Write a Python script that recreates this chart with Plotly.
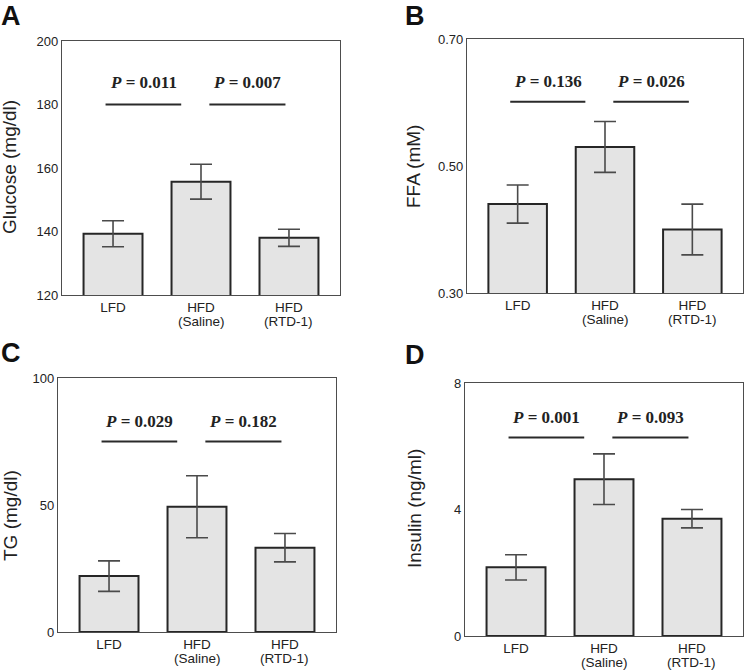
import plotly.graph_objects as go

W, H = 745, 670

categories = ["LFD", "HFD", "HFD"]
subcategories = ["", "(Saline)", "(RTD-1)"]

glucose_mean = [139.3, 155.7, 138.0]
glucose_sem = [4.1, 5.5, 2.7]
ffa_mean = [0.440, 0.530, 0.400]
ffa_sem = [0.030, 0.040, 0.040]
tg_mean = [22.0, 49.3, 33.2]
tg_sem = [6.0, 12.2, 5.6]
insulin_mean = [2.17, 4.96, 3.71]
insulin_sem = [0.40, 0.80, 0.29]

glucose_p = ["0.011", "0.007"]
ffa_p = ["0.136", "0.026"]
tg_p = ["0.029", "0.182"]
insulin_p = ["0.001", "0.093"]

glucose_ticks = [120, 140, 160, 180, 200]
ffa_ticks = [0.30, 0.50, 0.70]
tg_ticks = [0, 50, 100]
insulin_ticks = [0, 4, 8]

def px(x):
    return x / W

def py(y):
    return 1 - y / H

panels = [
    ("A", "Glucose (mg/dl)", glucose_mean, glucose_sem, glucose_p, glucose_ticks, "d", [120, 200], 180, 187,
     (62, 340), (41, 295), (11, 16), (10, 167)),
    ("B", "FFA (mM)", ffa_mean, ffa_sem, ffa_p, ffa_ticks, ".2f", [0.30, 0.70], 0.601, 0.633,
     (467, 743), (39, 293), (415, 16), (414, 167)),
    ("C", "TG (mg/dl)", tg_mean, tg_sem, tg_p, tg_ticks, "d", [0, 100], 75, 83,
     (58, 336), (378, 632), (11, 353), (10, 516)),
    ("D", "Insulin (ng/ml)", insulin_mean, insulin_sem, insulin_p, insulin_ticks, "d", [0, 8], 6.28, 6.9,
     (465, 743), (383, 636), (415, 355), (414, 509)),
]

fig = go.Figure()
annotations = []
shapes = []
layout_axes = {}
label_font = dict(family="Liberation Sans, Arial", size=13.5, color="#222")

for i, (letter, ytitle, means, sems, pvals, ticks, fmt, yr, line_y, text_y,
        xd, yd, lpos, tpos) in enumerate(panels):
    n = "" if i == 0 else str(i + 1)
    xa, ya = "x" + n, "y" + n
    fig.add_trace(go.Bar(
        x=[0, 1, 2], y=means, width=0.67,
        marker=dict(color="#e4e4e4", line=dict(color="#262626", width=2)),
        error_y=dict(type="data", array=sems, visible=True, color="#4a4a4a",
                     thickness=1.6, width=11),
        xaxis=xa, yaxis=ya, showlegend=False,
    ))
    if fmt == ".2f":
        ticktext = [f"{t:.2f}" for t in ticks]
    else:
        ticktext = [str(t) for t in ticks]
    layout_axes["xaxis" + n] = dict(
        domain=[px(xd[0]), px(xd[1])], anchor=ya, range=[-0.58, 2.58],
        tickmode="array", tickvals=[0, 1, 2], ticktext=categories,
        showline=True, mirror=True, linecolor="#4d4d4d", linewidth=1.2,
        ticks="", showgrid=False, zeroline=False, fixedrange=True, automargin=False,
        tickfont=label_font,
    )
    layout_axes["yaxis" + n] = dict(
        domain=[py(yd[1]), py(yd[0])], anchor=xa, range=yr,
        tickmode="array", tickvals=ticks, ticktext=ticktext,
        showline=True, mirror=True, linecolor="#4d4d4d", linewidth=1.2,
        ticks="", showgrid=False, zeroline=False, automargin=False, fixedrange=True,
        tickfont=dict(family="Liberation Sans, Arial", size=13, color="#222"),
    )
    for k, sub in enumerate(subcategories):
        if sub:
            annotations.append(dict(
                xref=xa, yref="paper", x=k, y=py(yd[1] + 26),
                text=sub, showarrow=False, xanchor="center", yanchor="middle",
                font=label_font,
            ))
    segs = [(-0.085, 0.775), (1.095, 1.96)]
    for (x0, x1), p in zip(segs, pvals):
        shapes.append(dict(type="line", xref=xa, yref=ya, x0=x0, x1=x1,
                           y0=line_y, y1=line_y,
                           line=dict(color="#2a2a2a", width=2)))
        annotations.append(dict(
            xref=xa, yref=ya, x=(x0 + x1) / 2, y=text_y,
            text=f"<b><i>P</i> = {p}</b>", showarrow=False,
            font=dict(family="Liberation Serif, Times New Roman", size=17, color="#222"),
        ))
    annotations.append(dict(
        xref="paper", yref="paper", x=px(lpos[0]), y=py(lpos[1]),
        text=f"<b>{letter}</b>", showarrow=False, xanchor="center", yanchor="middle",
        font=dict(family="Liberation Sans, Arial", size=27, color="#111"),
    ))
    annotations.append(dict(
        xref="paper", yref="paper", x=px(tpos[0]), y=py(tpos[1]),
        text=ytitle, textangle=-90, showarrow=False, xanchor="center", yanchor="middle",
        font=dict(family="Liberation Sans, Arial", size=19, color="#222"),
    ))

fig.update_layout(
    width=W, height=H, margin=dict(l=0, r=0, t=0, b=0, autoexpand=False),
    plot_bgcolor="white", paper_bgcolor="white",
    annotations=annotations, shapes=shapes, bargap=0.33,
    **layout_axes,
)

fig.write_html("out.html", config={"displayModeBar": False},
               post_script="document.body.style.margin='0px';")
